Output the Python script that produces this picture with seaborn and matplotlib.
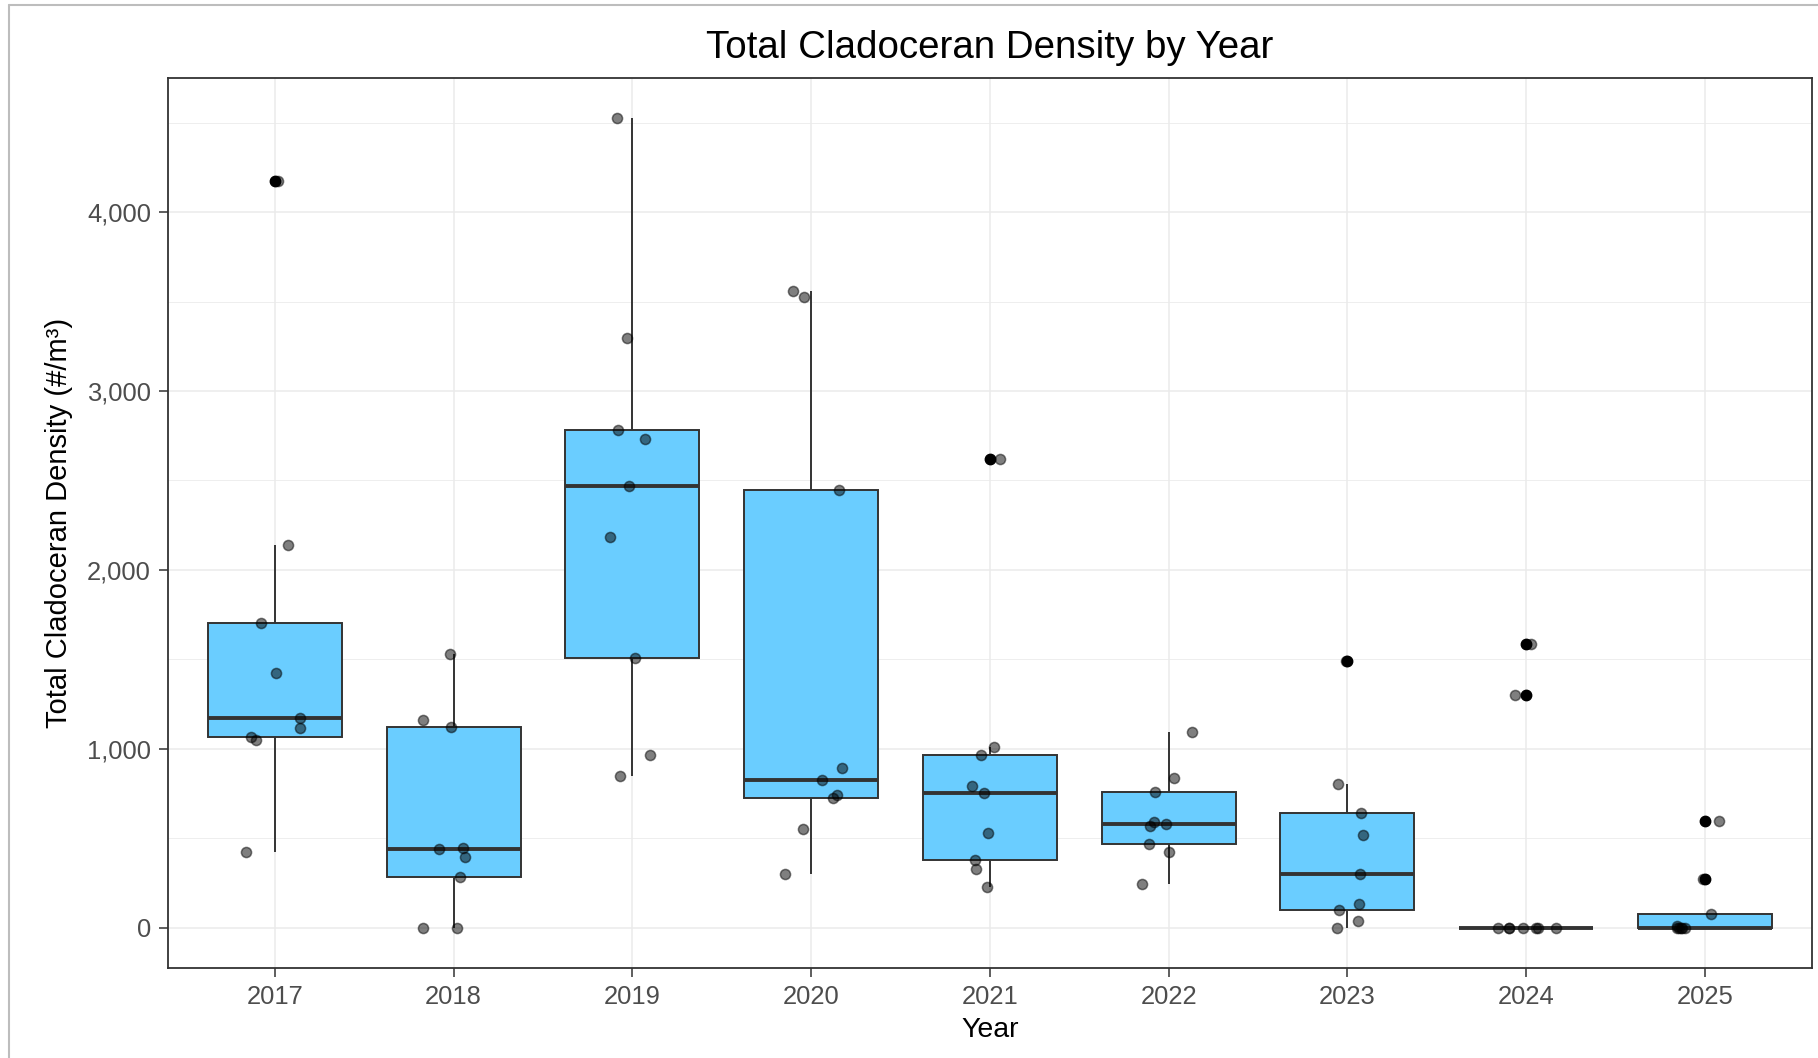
import numpy as np
import pandas as pd
import matplotlib
matplotlib.use("Agg")
import matplotlib.pyplot as plt
from matplotlib.lines import Line2D
from matplotlib.ticker import FuncFormatter, MultipleLocator
import seaborn as sns

# Sample densities (#/m³) per sampling year
years = ["2017", "2018", "2019", "2020", "2021", "2022", "2023", "2024", "2025"]
density_2017 = [4175, 2140, 1705, 1421, 1173, 1117, 1063, 1050, 420]
density_2018 = [1531, 1162, 1119, 445, 438, 397, 281, 0, 0]
density_2019 = [4525, 3296, 2783, 2731, 2470, 2186, 1509, 964, 845]
density_2020 = [3557, 3523, 2445, 890, 824, 739, 725, 552, 302]
density_2021 = [2621, 1011, 966, 791, 750, 530, 377, 325, 226]
density_2022 = [1095, 834, 759, 590, 578, 565, 466, 420, 246]
density_2023 = [1490, 802, 638, 518, 302, 130, 97, 34, 0]
density_2024 = [1585, 1302, 0, 0, 0, 0, 0, 0, 0]
density_2025 = [595, 269, 75, 8, 0, 0, 0, 0, 0]

by_year = [density_2017, density_2018, density_2019, density_2020, density_2021,
           density_2022, density_2023, density_2024, density_2025]
df = pd.DataFrame({
    "Year": [y for y, vals in zip(years, by_year) for _ in vals],
    "Density": [v for vals in by_year for v in vals],
})

sns.set_theme(style="white")
plt.rcParams["font.family"] = ["Liberation Sans", "DejaVu Sans"]

BOX_FILL = "#6ACDFF"
DARK = "#333333"
GRID = "#EBEBEB"

W, H = 1818, 1058
fig = plt.figure(figsize=(W / 100, H / 100), dpi=100)
fig.patch.set_facecolor("white")
px_left, px_right, px_top, px_bottom = 167.7, 1812, 77.7, 968
ax = fig.add_axes([px_left / W, 1 - px_bottom / H,
                   (px_right - px_left) / W, (px_bottom - px_top) / H])
ax.set_facecolor("white")

sns.boxplot(
    data=df, x="Year", y="Density", order=years, ax=ax,
    color=BOX_FILL, saturation=1, width=0.75, whis=1.5,
    linecolor=DARK, linewidth=1.4, fliersize=7.5, showcaps=False,
    medianprops=dict(color=DARK, linewidth=2.8),
    flierprops=dict(marker="o", markerfacecolor="black",
                    markeredgecolor="black", markersize=7.5),
)

# Jittered raw observations drawn over the boxes
np.random.seed(3)
sns.stripplot(
    data=df, x="Year", y="Density", order=years, ax=ax,
    jitter=0.18, color="black", alpha=0.5, size=7.3,
    linewidth=1.1, edgecolor="black",
)

# Axis limits with a 5% margin on the value range, 0.6 on the category axis
vals = df["Density"]
span = vals.max() - vals.min()
ax.set_ylim(vals.min() - 0.05 * span, vals.max() + 0.05 * span)
ax.set_xlim(-0.6, len(years) - 0.4)

ax.yaxis.set_major_locator(MultipleLocator(1000))
ax.yaxis.set_minor_locator(MultipleLocator(500))
ax.yaxis.set_major_formatter(FuncFormatter(lambda v, p: f"{v:,.0f}"))

ax.set_axisbelow(True)
ax.grid(which="major", axis="both", color=GRID, linewidth=1.1)
ax.grid(which="minor", axis="y", color=GRID, linewidth=0.6)

for s in ax.spines.values():
    s.set_visible(True)
    s.set_color(DARK)
    s.set_linewidth(1.3)

ax.tick_params(axis="both", which="major", length=6.5, width=1.1, color=DARK,
               labelsize=18.4, labelcolor="#4D4D4D", pad=5.5,
               left=True, bottom=True)
ax.tick_params(axis="both", which="minor", length=0)

ax.set_xlabel("Year", fontsize=20.5, color="black", labelpad=6)
ax.set_ylabel("Total Cladoceran Density (#/m³)", fontsize=21, color="black", labelpad=10)
ax.set_title("Total Cladoceran Density by Year", fontsize=27.7, color="black", pad=14)

# Thin page frame along the left and top edges
fig.add_artist(Line2D([9 / W, 9 / W], [0, 1 - 5 / H], transform=fig.transFigure,
                      color="#BDBDBD", linewidth=1.5))
fig.add_artist(Line2D([9 / W, 1], [1 - 5 / H, 1 - 5 / H], transform=fig.transFigure,
                      color="#BDBDBD", linewidth=1.5))

fig.savefig("out.png", dpi=100, facecolor="white")
